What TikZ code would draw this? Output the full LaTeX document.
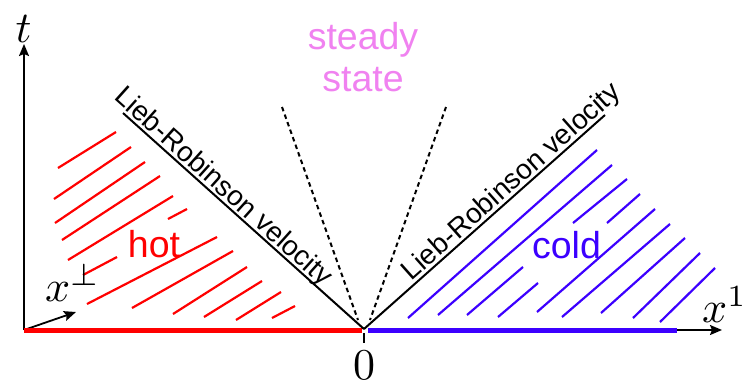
\documentclass[tikz,border=0pt]{standalone}
\usepackage{fontspec}
\usepackage{graphicx}
\newfontfamily\arialf{Liberation Sans}
\usetikzlibrary{arrows.meta}
\definecolor{hotred}{RGB}{255,0,0}
\definecolor{coldblue}{RGB}{60,0,255}
\definecolor{steadypink}{RGB}{240,130,240}
\newcommand{\bigmath}[1]{\scalebox{4.4}{$#1$}}
\begin{document}
\begin{tikzpicture}[x=1pt,y=-1pt,
  axisarrow/.style={line width=1.8pt,-{Stealth[length=12pt,width=10pt,inset=2pt]}},
  hatchred/.style={hotred,line width=2.2pt},
  hatchblue/.style={coldblue,line width=2.2pt},
  lrline/.style={line width=2pt},
  dashline/.style={line width=2pt,dash pattern=on 4.5pt off 3.5pt},
  lrtext/.style={font=\arialf\fontsize{28}{32}\selectfont,inner sep=0pt,anchor=base},
  bigtext/.style={font=\arialf\fontsize{37.5}{42}\selectfont,inner sep=0pt,anchor=base},
  mathlab/.style={inner sep=0pt}]
\useasboundingbox (0,0) rectangle (749,386);
% key points
\coordinate (O) at (364,329);
\coordinate (orig) at (24,330);
\coordinate (ttip) at (24,44);
\coordinate (xtip) at (722,330);
\coordinate (ptip) at (76,312);
\coordinate (redend) at (362,330);
\coordinate (bluestart) at (368,330);
\coordinate (blueend) at (677,330);
\coordinate (LRl) at (123,113);
\coordinate (LRr) at (605,115);
\coordinate (Dl) at (282,107);
\coordinate (Dr) at (446,107);
\coordinate (Dlb) at (358,320);
\coordinate (Drb) at (370,320);
\coordinate (ticka) at (364,333);
\coordinate (tickb) at (364,343);
% axes
\draw[axisarrow] (orig) -- (ttip);
\draw[axisarrow] (blueend) -- (xtip);
\draw[axisarrow] (orig) -- (ptip);
\draw[line width=1.2pt] (ticka) -- (tickb);
% thick coloured half-lines
\draw[hotred,line width=5pt] (orig) -- (redend);
\draw[coldblue,line width=5pt] (bluestart) -- (blueend);
% light-cone lines
\draw[lrline] (LRl) -- (O);
\draw[lrline] (O) -- (LRr);
\draw[dashline] (Dl) -- (Dlb);
\draw[dashline] (Dr) -- (Drb);
% red hatching
\foreach \a/\b/\c/\d in {58/168/116/132, 54/199/131/147, 55/223/145/162, 62/240/160/176,
  68/260/173/196, 168/219/187/209, 83/275/117/257, 87/304/217/237, 132/308/233/251,
  173/314/247/267, 204/317/262/281, 236/320/281/292, 272/318/295/306}
  \draw[hatchred] (\a,\b) -- (\c,\d);
% blue hatching
\foreach \a/\b/\c/\d in {408/318/597/150, 438/315/612/165, 467/315/523/267, 498/317/538/283,
  573/223/627/179, 607/223/640/194, 537/312/655/209, 562/317/670/224, 601/313/685/238,
  633/318/700/253, 660/322/715/268}
  \draw[hatchblue] (\a,\b) -- (\c,\d);
% labels
\node[lrtext,rotate=-41.9] (lrleft) at (218,193) {Lieb-Robinson velocity};
\node[lrtext,rotate=41.6] (lrright) at (517,188) {Lieb-Robinson velocity};
\node[bigtext,text=steadypink] (steady) at (363,49.5) {steady};
\node[bigtext,text=steadypink] (state) at (363,91.5) {state};
\node[bigtext,text=hotred] (hot) at (154,257) {hot};
\node[bigtext,text=coldblue] (cold) at (566.5,258) {cold};
\node[mathlab] (tlab) at (23.5,28.5) {\bigmath{t}};
\node[mathlab,anchor=base west] (xperp) at (45,301.5) {\bigmath{x^{\perp}}};
\node[mathlab,anchor=base west] (xone) at (702,322) {\bigmath{x^{1}}};
\node[mathlab] (zero) at (364,365) {\bigmath{0}};
\end{tikzpicture}
\end{document}
